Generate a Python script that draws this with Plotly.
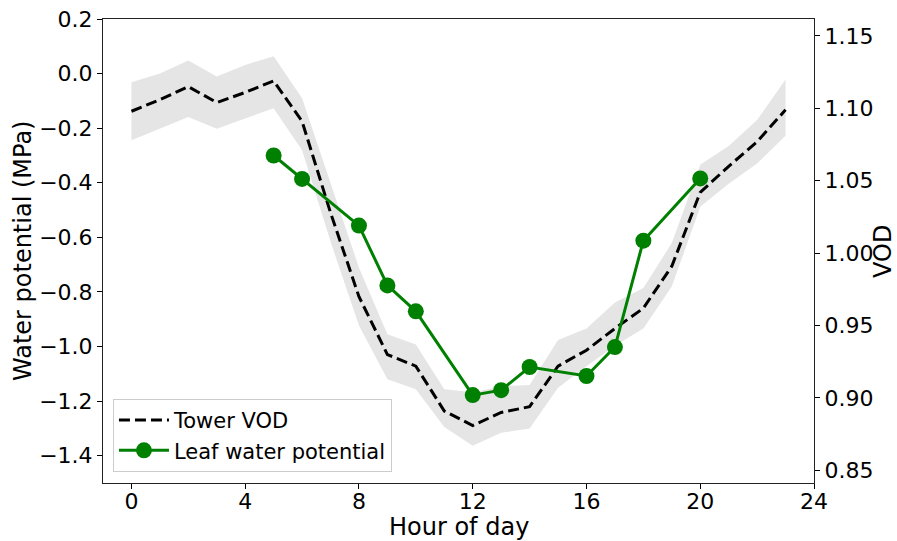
import plotly.graph_objects as go

hours = list(range(24))
vod_mean = [1.098, 1.106, 1.115, 1.104, 1.111, 1.119, 1.091, 1.028, 0.970, 0.930, 0.922,
            0.891, 0.881, 0.890, 0.894, 0.922, 0.933, 0.948, 0.962, 0.991, 1.042, 1.060, 1.077, 1.099]
vod_upper = [1.118, 1.124, 1.133, 1.122, 1.130, 1.136, 1.107, 1.048, 0.990, 0.944, 0.937,
             0.906, 0.904, 0.908, 0.909, 0.940, 0.948, 0.966, 0.976, 1.007, 1.061, 1.074, 1.092, 1.120]
vod_lower = [1.078, 1.086, 1.094, 1.086, 1.093, 1.100, 1.071, 1.008, 0.950, 0.913, 0.906,
             0.880, 0.867, 0.876, 0.879, 0.907, 0.922, 0.936, 0.948, 0.977, 1.032, 1.048, 1.062, 1.081]

leaf_hours = [5, 6, 8, 9, 10, 12, 13, 14, 16, 17, 18, 20]
leaf_wp = [-0.30, -0.386, -0.557, -0.776, -0.871, -1.178, -1.160, -1.075, -1.108, -1.002, -0.612, -0.384]

x_ticks = [0, 4, 8, 12, 16, 20, 24]
wp_ticks = [0.2, 0.0, -0.2, -0.4, -0.6, -0.8, -1.0, -1.2, -1.4]
vod_ticks = [0.85, 0.90, 0.95, 1.00, 1.05, 1.10, 1.15]

FONT = "DejaVu Sans"
TICK_SIZE = 22
TITLE_SIZE = 24
LEGEND_SIZE = 21

fig = go.Figure()

# shaded band
fig.add_trace(go.Scatter(x=hours + hours[::-1], y=vod_upper + vod_lower[::-1],
                         fill="toself", fillcolor="#e5e5e5", line=dict(width=0),
                         mode="lines", showlegend=False, hoverinfo="skip", yaxis="y"))
fig.add_trace(go.Scatter(x=hours, y=vod_mean, mode="lines", name="Tower VOD",
                         line=dict(color="black", width=3, dash="11px,5px"), yaxis="y"))
fig.add_trace(go.Scatter(x=leaf_hours, y=leaf_wp, mode="lines+markers", name="Leaf water potential",
                         line=dict(color="green", width=3),
                         marker=dict(color="green", size=16), yaxis="y2"))

tickfont = dict(family=FONT, size=TICK_SIZE, color="black")
titlefont = dict(family=FONT, size=TITLE_SIZE, color="black")
fig.update_layout(
    width=897, height=541,
    margin=dict(l=103, r=83, t=19, b=58),
    paper_bgcolor="white", plot_bgcolor="white",
    font=dict(family=FONT, size=20, color="black"),
    xaxis=dict(range=[-1, 24], tickvals=x_ticks, ticks="outside", ticklen=5, tickwidth=1,
               tickcolor="black", showline=True, linecolor="#222", linewidth=1, mirror=True,
               showgrid=False, zeroline=False, tickfont=tickfont, automargin=False,
               ticklabelstandoff=-6),
    yaxis=dict(range=[0.8413, 1.1617], side="right", tickvals=vod_ticks,
               ticktext=[f"{v:.2f}" for v in vod_ticks],
               ticks="outside", ticklen=5, tickwidth=1, tickcolor="black",
               showline=True, linecolor="#222", linewidth=1, showgrid=False, zeroline=False,
               tickfont=tickfont, automargin=False),
    yaxis2=dict(range=[-1.5, 0.2], side="left", overlaying="y", tickvals=wp_ticks,
                ticktext=[f"{v:.1f}".replace("-", "\u2212") if v != 0 else "0.0" for v in wp_ticks],
                ticks="outside", ticklen=5, tickwidth=1, tickcolor="black",
                showline=True, linecolor="#222", linewidth=1, showgrid=False, zeroline=False,
                tickfont=tickfont, automargin=False),
    legend=dict(x=0.014, y=0.024, xanchor="left", yanchor="bottom",
                bgcolor="rgba(255,255,255,0.85)", bordercolor="#cccccc", borderwidth=1,
                font=dict(family=FONT, size=LEGEND_SIZE, color="black"), itemwidth=50),
    showlegend=True,
    annotations=[
        dict(text="Hour of day", xref="paper", yref="paper", x=0.5, y=-0.095,
             xanchor="center", yanchor="middle", showarrow=False, font=titlefont),
        dict(text="Water potential (MPa)", xref="paper", yref="paper", x=-0.1125, y=0.5,
             xanchor="center", yanchor="middle", textangle=-90, showarrow=False, font=titlefont),
        dict(text="VOD", xref="paper", yref="paper", x=1.097, y=0.5,
             xanchor="center", yanchor="middle", textangle=-90, showarrow=False, font=titlefont),
    ],
)

fig.write_html("out.html")
